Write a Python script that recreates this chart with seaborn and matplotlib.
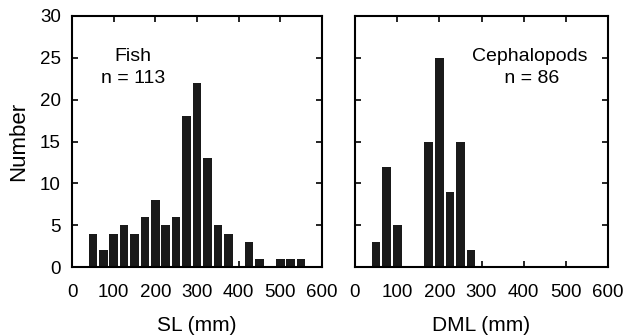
import numpy as np
import pandas as pd
import matplotlib
matplotlib.use("Agg")
import matplotlib.pyplot as plt
import seaborn as sns

# size classes (bin centres, mm) and counts
fish_sl = [50, 75, 100, 125, 150, 175, 200, 225, 250, 275, 300, 325, 350, 375, 400, 425, 450, 475, 500, 525, 550]
fish_n = [4, 2, 4, 5, 4, 6, 8, 5, 6, 18, 22, 13, 5, 4, 0, 3, 1, 0, 1, 1, 1]
ceph_dml = [50, 75, 100, 125, 150, 175, 200, 225, 250, 275]
ceph_n = [3, 12, 5, 0, 0, 15, 25, 9, 15, 2]

sns.set_style("ticks")
plt.rcParams['font.family'] = ['Liberation Sans', 'DejaVu Sans']
plt.rcParams['text.color'] = 'black'
plt.rcParams['axes.labelcolor'] = 'black'
plt.rcParams['xtick.color'] = 'black'
plt.rcParams['ytick.color'] = 'black'

fish = pd.DataFrame({"size": fish_sl, "n": fish_n})
ceph = pd.DataFrame({"size": ceph_dml, "n": ceph_n})

fig = plt.figure(figsize=(6.26, 3.36), dpi=100)
ax1 = fig.add_axes([72/626, 1 - 267/336, 250/626, 251/336])
ax2 = fig.add_axes([355/626, 1 - 267/336, 253/626, 251/336])

for ax, df, xl in [(ax1, fish, "SL (mm)"), (ax2, ceph, "DML (mm)")]:
    sns.histplot(data=df, x="size", weights="n", binwidth=25,
                 binrange=(37.5, 587.5), shrink=0.83,
                 color="#1a1a1a", edgecolor="none", alpha=1, ax=ax)
    ax.set_xlim(0, 600)
    ax.set_ylim(0, 30)
    ax.set_xticks(range(0, 601, 100))
    ax.set_yticks(range(0, 31, 5))
    ax.tick_params(direction="in", top=True, right=True, length=4, width=1.2,
                   labelsize=13.5)
    ax.tick_params(axis="x", pad=12)
    ax.tick_params(axis="y", pad=8)
    for s in ax.spines.values():
        s.set_linewidth(1.5)
        s.set_color("black")
    ax.set_xlabel(xl, fontsize=15, labelpad=11)
    ax.set_ylabel("")

ax1.set_ylabel("Number", fontsize=16, labelpad=8)
ax2.tick_params(labelleft=False)

ax1.text(0.245, 0.795, "Fish\nn = 113", transform=ax1.transAxes, ha="center",
         va="center", fontsize=14, linespacing=1.35)
ax2.text(0.69, 0.795, "Cephalopods\n n = 86", transform=ax2.transAxes, ha="center",
         va="center", fontsize=14, linespacing=1.35)

fig.savefig("out.png", dpi=100)
